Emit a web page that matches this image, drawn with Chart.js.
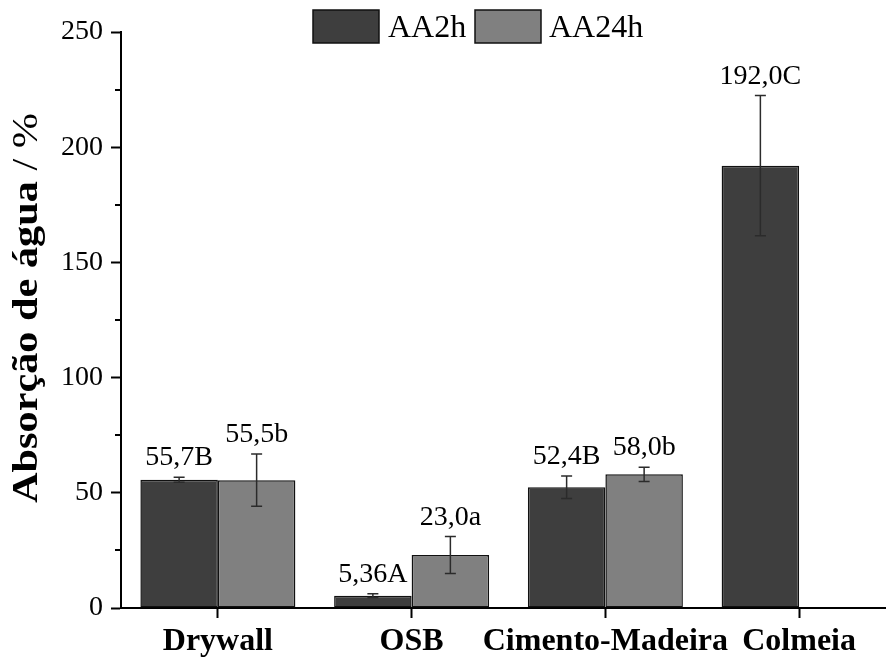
<!DOCTYPE html>
<html>
<head>
<meta charset="utf-8">
<script src="https://cdn.jsdelivr.net/npm/chart.js@4/dist/chart.umd.min.js"></script>
<style>
  html, body { margin: 0; padding: 0; background: #fff; overflow: hidden; width: 886px; height: 660px; }
  #wrap { width: 900px; height: 660px; }
</style>
</head>
<body>
<div id="wrap"><canvas id="c" width="900" height="660"></canvas></div>
<script>
// Water absorption after 2 h and 24 h immersion, per panel type
const categories = ['Drywall', 'OSB', 'Cimento-Madeira', 'Colmeia'];
const seriesNames = ['AA2h', 'AA24h'];
const aa2h = [55.7, 5.36, 52.4, 192.0];
const aa24h = [55.5, 23.0, 58.0, null];
const aa2hErr = [1.1, 0.8, 4.9, 30.4];
const aa24hErr = [11.3, 8.0, 3.1, null];
const aa2hLabels = ['55,7B', '5,36A', '52,4B', '192,0C'];
const aa24hLabels = ['55,5b', '23,0a', '58,0b', null];
const yTicks = [0, 50, 100, 150, 200, 250];
const yMinorTicks = [25, 75, 125, 175, 225];
const yTitleBold = 'Absorção de água ';
const yTitleRegular = '/ %';

const colors = ['#3e3e3e', '#808080'];
const errors = [aa2hErr, aa24hErr];
const valueLabels = [aa2hLabels, aa24hLabels];
const SERIF = "'Liberation Serif', 'Times New Roman', serif";

Chart.defaults.font.family = SERIF;
Chart.defaults.color = '#000';

// Error bars and the letter-coded value labels above them
const errorBarPlugin = {
  id: 'errorBars',
  afterDatasetsDraw(chart) {
    const ctx = chart.ctx;
    const y = chart.scales.y;
    ctx.save();
    chart.data.datasets.forEach((ds, i) => {
      const meta = chart.getDatasetMeta(i);
      meta.data.forEach((bar, j) => {
        const v = ds.data[j];
        if (v === null || v === undefined) return;
        const e = errors[i][j] || 0;
        const top = y.getPixelForValue(v + e);
        const bot = y.getPixelForValue(v - e);
        const x = bar.x;
        ctx.strokeStyle = '#2b2b2b';
        ctx.lineWidth = 1.5;
        ctx.beginPath();
        ctx.moveTo(x, top); ctx.lineTo(x, bot);
        ctx.moveTo(x - 5.5, top); ctx.lineTo(x + 5.5, top);
        ctx.moveTo(x - 5.5, bot); ctx.lineTo(x + 5.5, bot);
        ctx.stroke();
        const lbl = valueLabels[i][j];
        if (lbl) {
          ctx.fillStyle = '#000';
          ctx.font = '28px ' + SERIF;
          ctx.textAlign = 'center';
          ctx.textBaseline = 'alphabetic';
          ctx.fillText(lbl, x, Math.min(top, y.getPixelForValue(v)) - 12);
        }
      });
    });
    ctx.restore();
  }
};

// Minor y ticks, the legend and the rotated axis title
const decorPlugin = {
  id: 'decor',
  afterDraw(chart) {
    const ctx = chart.ctx;
    const y = chart.scales.y;
    const left = chart.chartArea.left;
    ctx.save();
    ctx.strokeStyle = '#000';
    ctx.lineWidth = 2;
    ctx.beginPath();
    yMinorTicks.forEach(v => {
      const py = Math.round(y.getPixelForValue(v));
      ctx.moveTo(left - 6, py); ctx.lineTo(left, py);
    });
    ctx.stroke();

    // legend
    const boxX = [313, 475];
    const textX = [388, 549];
    seriesNames.forEach((name, i) => {
      ctx.fillStyle = colors[i];
      ctx.fillRect(boxX[i], 10, 66, 33);
      ctx.strokeStyle = '#111';
      ctx.lineWidth = 1.5;
      ctx.strokeRect(boxX[i], 10, 66, 33);
      ctx.fillStyle = '#000';
      ctx.font = '32px ' + SERIF;
      ctx.textAlign = 'left';
      ctx.textBaseline = 'alphabetic';
      ctx.fillText(name, textX[i], 37);
    });

    // y title: bold words followed by the unit in regular weight
    const boldFont = 'bold 35px ' + SERIF;
    const regFont = '35px ' + SERIF;
    ctx.font = boldFont;
    const wb = ctx.measureText(yTitleBold).width;
    ctx.font = regFont;
    const wr = ctx.measureText(yTitleRegular).width;
    const total = wb + wr;
    const target = 390;
    const sx = target / total;
    ctx.translate(37, 308);
    ctx.rotate(-Math.PI / 2);
    ctx.scale(sx, 1);
    ctx.textAlign = 'left';
    ctx.textBaseline = 'alphabetic';
    ctx.fillStyle = '#000';
    ctx.font = boldFont;
    ctx.fillText(yTitleBold, -total / 2, 0);
    ctx.font = regFont;
    ctx.fillText(yTitleRegular, -total / 2 + wb, 0);
    ctx.restore();
  }
};

new Chart(document.getElementById('c'), {
  type: 'bar',
  data: {
    labels: categories,
    datasets: [
      { label: seriesNames[0], data: aa2h, backgroundColor: colors[0], borderColor: '#111', borderWidth: 1.5, borderSkipped: false },
      { label: seriesNames[1], data: aa24h, backgroundColor: colors[1], borderColor: '#111', borderWidth: 1.5, borderSkipped: false }
    ]
  },
  options: {
    responsive: false,
    animation: false,
    devicePixelRatio: 1,
    layout: { padding: { top: 32, right: 4, left: 0, bottom: 0 } },
    datasets: { bar: { categoryPercentage: 0.8, barPercentage: 1.0 } },
    plugins: { legend: { display: false }, tooltip: { enabled: false }, title: { display: false } },
    scales: {
      x: {
        offset: true,
        grid: { offset: false, drawOnChartArea: false, tickLength: 10, tickWidth: 2, tickColor: '#000' },
        border: { color: '#000', width: 2 },
        ticks: { font: { size: 32, weight: 'bold', family: SERIF }, color: '#000', padding: 5, maxRotation: 0, autoSkip: false },
        afterFit(scale) { scale.height = 52; }
      },
      y: {
        min: 0, max: 250,
        afterBuildTicks(scale) { scale.ticks = yTicks.map(v => ({ value: v })); },
        grid: { drawOnChartArea: false, tickLength: 10, tickWidth: 2, tickColor: '#000' },
        border: { color: '#000', width: 2 },
        ticks: { font: { size: 28, family: SERIF }, color: '#000', padding: 8 },
        afterFit(scale) { scale.width = 121; }
      }
    }
  },
  plugins: [errorBarPlugin, decorPlugin]
});
</script>
</body>
</html>
